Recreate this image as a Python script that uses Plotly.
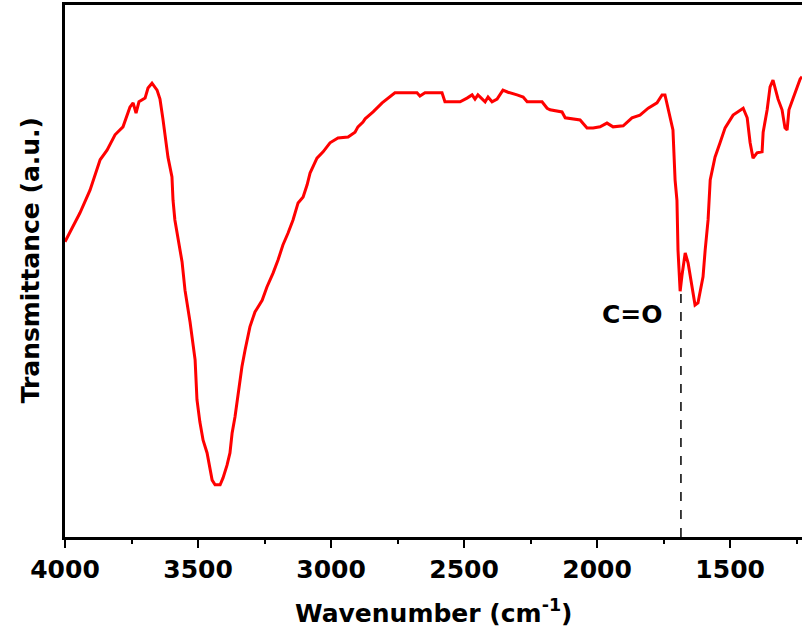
import plotly.graph_objects as go

# FTIR spectrum (wavenumber in cm^-1, transmittance in arbitrary units)
wavenumber = [
    4000, 3981, 3944, 3906, 3868, 3842, 3812, 3782, 3756, 3744, 3733, 3722,
    3699, 3688, 3673, 3654, 3643, 3632, 3624, 3613, 3598, 3594, 3587, 3575,
    3568, 3560, 3549, 3530, 3511, 3504, 3493, 3481, 3466, 3455, 3447, 3436,
    3417, 3406, 3391, 3380, 3372, 3361, 3353, 3335, 3323, 3305, 3286, 3259,
    3241, 3218, 3199, 3181, 3162, 3143, 3124, 3105, 3090, 3079, 3053, 3030,
    3004, 2974, 2936, 2910, 2899, 2880, 2872, 2842, 2808, 2778, 2760, 2677,
    2666, 2647, 2583, 2572, 2515, 2489, 2470, 2459, 2448, 2421, 2410, 2395,
    2376, 2354, 2335, 2301, 2278, 2263, 2207, 2188, 2177, 2132, 2120, 2064,
    2038, 2015, 1989, 1963, 1940, 1902, 1869, 1839, 1808, 1775, 1756, 1745,
    1733, 1726, 1715, 1707, 1700, 1696, 1688, 1681, 1669, 1658, 1639, 1632,
    1621, 1602, 1594, 1583, 1575, 1557, 1538, 1519, 1489, 1451, 1436, 1425,
    1414, 1399, 1380, 1376, 1361, 1350, 1339, 1331, 1320, 1305, 1294, 1286,
    1279, 1263, 1248, 1237, 1230,
]
transmittance = [
    55.5, 57.3, 60.9, 65.2, 70.9, 72.7, 75.6, 77.1, 80.8, 81.6, 79.7, 81.8,
    82.5, 84.4, 85.3, 84.0, 82.3, 78.6, 75.6, 71.4, 67.7, 63.3, 59.6, 55.8,
    53.4, 51.7, 46.4, 40.4, 33.3, 25.8, 21.6, 18.2, 15.8, 13.0, 10.7, 9.8,
    9.8, 11.1, 13.5, 15.8, 19.5, 22.6, 25.8, 32.0, 35.2, 39.5, 42.3, 44.5,
    47.0, 49.6, 52.1, 54.9, 57.1, 59.6, 62.8, 63.9, 66.2, 68.4, 71.2, 72.4,
    74.1, 75.0, 75.2, 76.1, 77.1, 78.0, 78.6, 79.9, 81.6, 82.7, 83.5, 83.5,
    82.9, 83.5, 83.5, 81.8, 81.8, 82.5, 83.1, 82.3, 83.1, 81.8, 82.7, 81.8,
    82.3, 84.0, 83.6, 83.1, 82.7, 81.8, 81.8, 80.6, 80.3, 79.9, 78.8, 78.4,
    76.9, 76.9, 77.1, 77.8, 77.1, 77.3, 78.8, 79.3, 80.6, 81.6, 83.1, 83.1,
    80.3, 78.8, 76.5, 67.1, 63.3, 53.9, 46.2, 49.2, 53.4, 51.5, 45.9, 43.6,
    44.0, 48.9, 53.9, 59.6, 67.1, 71.4, 74.1, 76.9, 79.3, 80.6, 78.8, 74.1,
    71.2, 72.2, 72.4, 76.1, 80.3, 84.6, 85.9, 84.4, 82.3, 80.3, 76.9, 76.5,
    80.3, 82.5, 84.6, 86.1, 86.5,
]

# carbonyl band marker
co_label = "C=O"
co_wavenumber = 1685
co_transmittance = 46.2

x_range = [4000, 1230]
y_range = [0, 100]
tick_values = [4000, 3500, 3000, 2500, 2000, 1500]

FONT = "DejaVu Sans"

fig = go.Figure()
fig.add_trace(go.Scatter(
    x=wavenumber, y=transmittance, mode="lines",
    line=dict(color="#ff0000", width=3),
    showlegend=False, hoverinfo="skip",
))

fig.add_shape(
    type="line", xref="x", yref="y",
    x0=co_wavenumber, x1=co_wavenumber, y0=y_range[0], y1=co_transmittance,
    line=dict(color="black", width=1.5, dash="dash"),
)
fig.add_annotation(
    x=co_wavenumber, y=co_transmittance, xref="x", yref="y",
    text="<b>%s</b>" % co_label, showarrow=False,
    xanchor="right", yanchor="middle", xshift=-16, yshift=-23,
    font=dict(family=FONT, size=25, color="black"),
)

# axis titles
fig.add_annotation(
    x=0.5, y=0, xref="paper", yref="paper", yshift=-74,
    text="<b>Wavenumber (cm<sup>-1</sup>)</b>", showarrow=False,
    xanchor="center", yanchor="middle",
    font=dict(family=FONT, size=25, color="black"),
)
fig.add_annotation(
    x=0, y=0.52, xref="paper", yref="paper", xshift=-35,
    text="<b>Transmittance (a.u.)</b>", showarrow=False, textangle=-90,
    xanchor="center", yanchor="middle",
    font=dict(family=FONT, size=25, color="black"),
)

fig.update_layout(
    width=802, height=641,
    margin=dict(l=65, r=0, t=5, b=104),
    paper_bgcolor="white", plot_bgcolor="white",
    xaxis=dict(
        range=x_range, showgrid=False, zeroline=False,
        showline=True, linecolor="black", linewidth=2.5, mirror=True,
        ticks="outside", ticklen=8, tickwidth=2, tickcolor="black",
        tickvals=tick_values, ticktext=["<b>%d</b>" % v for v in tick_values],
        tickfont=dict(family=FONT, size=25, color="black"),
        minor=dict(ticks="outside", ticklen=4, tickwidth=2,
                   tickcolor="black", dtick=250, tick0=4000, showgrid=False),
    ),
    yaxis=dict(
        range=y_range, showgrid=False, zeroline=False,
        showline=True, linecolor="black", linewidth=2.5, mirror=False,
        ticks="", showticklabels=False,
    ),
)

fig.write_html("out.html")
